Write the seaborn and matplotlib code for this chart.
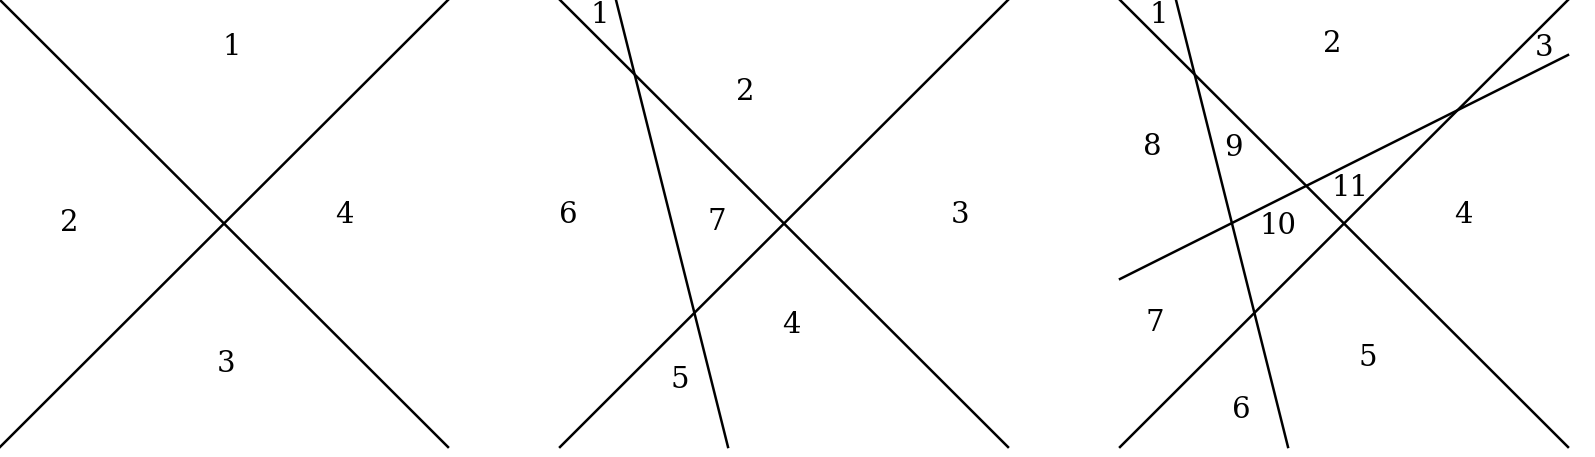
import matplotlib
matplotlib.use("Agg")
import matplotlib.pyplot as plt
import seaborn as sns
import pandas as pd

# segments: (panel, x0, y0, x1, y1) in pixel-like units of one 448-wide panel
panel_offsets = [0, 560, 1120]
seg_panel = [0, 0, 1, 1, 1, 2, 2, 2, 2]
seg_x0 = [0, 0, 0, 0, 56, 0, 0, 56, 0]
seg_y0 = [0, 447, 0, 447, 0, 0, 447, 0, 279]
seg_x1 = [448, 448, 448, 448, 168, 448, 448, 168, 448]
seg_y1 = [447, 0, 447, 0, 447, 447, 0, 447, 55]

# region labels
lab_panel = [0, 0, 0, 0, 1, 1, 1, 1, 1, 1, 1, 2, 2, 2, 2, 2, 2, 2, 2, 2, 2, 2]
lab_text = ["1", "2", "4", "3", "1", "2", "6", "7", "3", "4", "5",
            "1", "2", "3", "8", "9", "11", "10", "4", "7", "5", "6"]
lab_x = [232, 69, 344, 226, 40, 185, 8, 157, 400, 231, 120,
         39, 212, 424, 32, 113, 230, 158, 343, 35, 248, 121]
lab_y = [47, 223, 215, 364, 15, 92, 215, 222, 215, 325, 380,
         15, 44, 48, 147, 148, 188, 226, 215, 323, 358, 410]

fig = plt.figure(figsize=(15.95, 4.57), dpi=100)
ax = fig.add_axes([0, 0, 1, 1])

for i in range(len(seg_panel)):
    off = panel_offsets[seg_panel[i]]
    df = pd.DataFrame({"x": [seg_x0[i] + off, seg_x1[i] + off],
                       "y": [seg_y0[i], seg_y1[i]]})
    sns.lineplot(data=df, x="x", y="y", sort=False, color="black",
                 linewidth=1.8, ax=ax, estimator=None)

for p, t, x, y in zip(lab_panel, lab_text, lab_x, lab_y):
    ax.text(x + panel_offsets[p], y, t, fontsize=21, family="DejaVu Serif",
            ha="center", va="center")

ax.set_xlim(0, 1595)
ax.set_ylim(457, 0)
ax.axis("off")
fig.savefig("out.png", dpi=100)
